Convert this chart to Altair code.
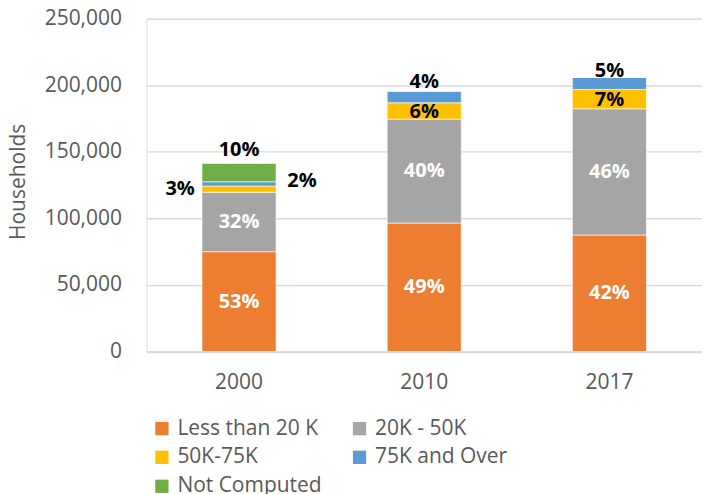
import altair as alt
import pandas as pd

years = ["2000", "2010", "2017"]
categories = ["Less than 20 K", "20K - 50K", "50K-75K", "75K and Over", "Not Computed"]
colors = ["#ED7D31", "#A5A5A5", "#FFC000", "#5B9BD5", "#70AD47"]

less_20k = [75000, 96500, 87500]
k20_50 = [44600, 78000, 94800]
k50_75 = [4700, 12300, 14500]
k75_over = [3200, 8700, 9000]
not_computed = [13800, 0, 0]

lbl_less_20k = ["53%", "49%", "42%"]
lbl_20_50 = ["32%", "40%", "46%"]
lbl_50_75 = ["3%", "6%", "7%"]
lbl_75_over = ["2%", "4%", "5%"]
lbl_not_computed = ["10%", "", ""]

series = [less_20k, k20_50, k50_75, k75_over, not_computed]
labels = [lbl_less_20k, lbl_20_50, lbl_50_75, lbl_75_over, lbl_not_computed]

rows = []
for ci, (cat, vals, lbls) in enumerate(zip(categories, series, labels)):
    for yi, yr in enumerate(years):
        rows.append({"year": yr, "category": cat, "idx": ci, "value": vals[yi], "label": lbls[yi]})
df = pd.DataFrame(rows)

FONT = "Open Sans"
TXT = "#595959"

x_enc = alt.X("year:N", title=None,
              scale=alt.Scale(paddingInner=0.6, paddingOuter=0.3),
              axis=alt.Axis(labelAngle=0, labelFontSize=21, labelFont=FONT, labelColor=TXT,
                            ticks=False, domainColor="#D9D9D9", domainWidth=1.3, labelPadding=20))

bars = alt.Chart(df).mark_bar(stroke="white", strokeWidth=0.6).encode(
    x=x_enc,
    y=alt.Y("value:Q", stack="zero",
            scale=alt.Scale(domain=[0, 250000], nice=False),
            axis=alt.Axis(title="Households", values=[0, 50000, 100000, 150000, 200000, 250000],
                          format=",.0f", labelFontSize=21, labelFont=FONT, labelColor=TXT,
                          ticks=False, domain=False, gridColor="#D9D9D9", gridWidth=1.3,
                          labelPadding=25, titleFont=FONT, titleFontSize=21, titleColor=TXT,
                          titleFontWeight="normal", titleAngle=-90, titleX=-128.5, titleY=163,
                          titleAlign="center", titleBaseline="middle")),
    color=alt.Color("category:N",
                    scale=alt.Scale(domain=categories, range=colors),
                    legend=alt.Legend(title=None, orient="none", legendX=5, legendY=400,
                                      direction="horizontal", columns=2, columnPadding=27,
                                      rowPadding=7, symbolType="square", symbolSize=177,
                                      symbolStrokeWidth=0, labelFont=FONT, labelFontSize=21,
                                      labelColor=TXT, labelOffset=5, padding=0)),
    order=alt.Order("idx:Q", sort="ascending"),
)

base = alt.Chart(df).transform_stack(
    stack="value", as_=["v0", "v1"], groupby=["year"], sort=[alt.SortField("idx", order="ascending")]
).transform_calculate(mid="(datum.v0 + datum.v1) / 2")


def lbl(filter_expr, field, color, dx=0, dy=0):
    return base.transform_filter(filter_expr).mark_text(
        font=FONT, fontSize=20, fontWeight="bold", color=color, baseline="middle",
        align="center", dx=dx, dy=dy
    ).encode(x=alt.X("year:N"), y=alt.Y(f"{field}:Q"), text="label:N")


white = lbl("datum.idx <= 1", "mid", "white")
mid_black = lbl("datum.idx == 2 && datum.year != '2000'", "mid", "black", dy=1)
three = lbl("datum.idx == 2 && datum.year == '2000'", "mid", "black", dx=-59)
two = lbl("datum.idx == 3 && datum.year == '2000'", "mid", "black", dx=63, dy=-3)
ten = lbl("datum.idx == 4 && datum.year == '2000'", "v1", "black", dy=-13)
four = lbl("datum.idx == 3 && datum.year == '2010'", "v1", "black", dy=-9)
five = lbl("datum.idx == 3 && datum.year == '2017'", "v1", "black", dy=-6)

chart = alt.layer(bars, white, mid_black, three, two, ten, four, five).properties(
    width=556.6, height=333.5,
    autosize=alt.AutoSizeParams(type="none"),
    padding={"left": 138.7, "top": 10.2, "right": 0, "bottom": 160},
).configure_view(stroke=None).configure(background="white")

chart.save("out.html", embed_options={"renderer": "svg", "actions": False})
